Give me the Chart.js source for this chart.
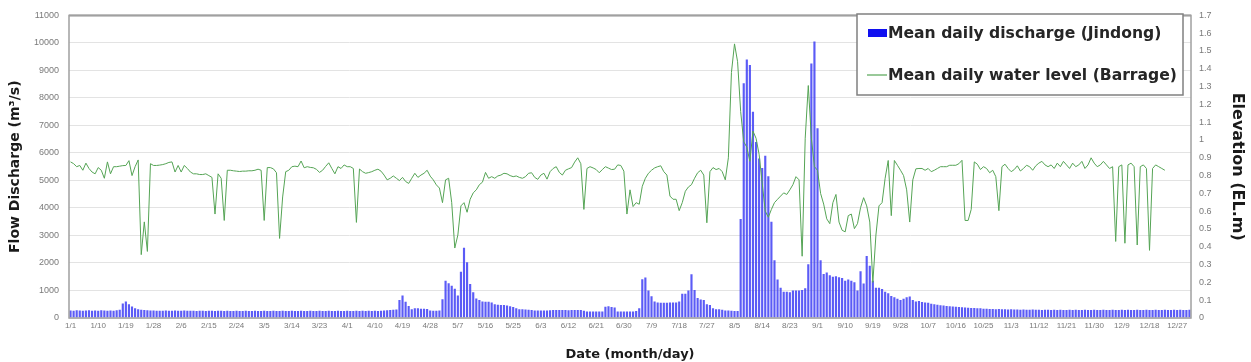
<!DOCTYPE html>
<html>
<head>
<meta charset="utf-8">
<script src="https://cdn.jsdelivr.net/npm/chart.js@4.4.1/dist/chart.umd.min.js"></script>
<style>
html, body { margin: 0; padding: 0; background: #fff; }
#wrap { width: 1251px; height: 362px; position: relative; }
</style>
</head>
<body>
<div id="wrap"><canvas id="chart"></canvas></div>
<script>
'use strict';

// categories: one per day of the year (month/day)
const monthLengths = [31, 28, 31, 30, 31, 30, 31, 31, 30, 31, 30, 31];
const days = [];
monthLengths.forEach((n, m) => {
	for (let d = 1; d <= n; ++d) {
		days.push(`${m + 1}/${d}`);
	}
});

// labels printed under the axis
const tickLabels = ['1/1', '1/10', '1/19', '1/28', '2/6', '2/15', '2/24', '3/5', '3/14', '3/23',
	'4/1', '4/10', '4/19', '4/28', '5/7', '5/16', '5/25', '6/3', '6/12', '6/21', '6/30',
	'7/9', '7/18', '7/27', '8/5', '8/14', '8/23', '9/1', '9/10', '9/19', '9/28',
	'10/7', '10/16', '10/25', '11/3', '11/12', '11/21', '11/30', '12/9', '12/18', '12/27'];

// mean daily discharge at Jindong (m3/s)
const discharge = [
	270, 260, 280, 270, 260, 270, 280, 260, 270, 260,
	280, 270, 260, 270, 260, 280, 300, 530, 600, 500,
	420, 350, 320, 300, 290, 280, 270, 270, 260, 260,
	260, 270, 260, 260, 270, 260, 260, 270, 260, 260,
	260, 250, 260, 260, 250, 260, 260, 250, 260, 260,
	250, 260, 250, 250, 260, 250, 250, 260, 250, 250,
	260, 250, 250, 260, 250, 250, 260, 250, 250, 260,
	250, 250, 260, 250, 250, 260, 250, 250, 260, 250,
	250, 260, 250, 250, 260, 250, 250, 260, 250, 250,
	260, 250, 250, 260, 250, 260, 250, 260, 250, 260,
	250, 260, 270, 280, 290, 300, 310, 650, 820, 590,
	435, 320, 350, 350, 340, 340, 330, 270, 260, 260,
	270, 680, 1350, 1260, 1175, 1060, 820, 1680, 2550, 2030,
	1235, 940, 705, 650, 600, 590, 590, 560, 500, 480,
	470, 470, 450, 430, 400, 350, 320, 320, 310, 300,
	290, 270, 270, 270, 270, 270, 280, 290, 290, 290,
	290, 290, 280, 290, 290, 290, 290, 260, 240, 235,
	235, 235, 235, 240, 410, 430, 400, 380, 240, 235,
	240, 240, 240, 240, 250, 350, 1410, 1470, 1000, 790,
	600, 560, 550, 550, 550, 560, 560, 560, 600, 880,
	880, 1000, 1590, 1020, 730, 670, 650, 500, 470, 350,
	320, 320, 300, 270, 270, 260, 250, 250, 3600, 8530,
	9400, 9200, 7500, 6400, 5800, 5450, 5900, 5150, 3500, 2100,
	1400, 1100, 950, 950, 940, 1000, 1000, 1000, 1020, 1080,
	1950, 9250, 10050, 6900, 2100, 1600, 1650, 1550, 1500, 1520,
	1480, 1450, 1350, 1400, 1350, 1300, 1000, 1700, 1250, 2250,
	1900, 1350, 1100, 1100, 1050, 950, 900, 800, 750, 700,
	650, 700, 750, 780, 650, 600, 620, 580, 560, 550,
	520, 500, 480, 460, 450, 440, 430, 420, 410, 400,
	390, 380, 370, 360, 360, 350, 350, 340, 340, 330,
	330, 320, 330, 320, 320, 310, 320, 310, 310, 300,
	310, 300, 300, 310, 300, 300, 290, 300, 300, 290,
	300, 290, 300, 290, 290, 300, 290, 300, 290, 290,
	300, 290, 290, 300, 290, 290, 300, 290, 290, 300,
	290, 290, 300, 290, 300, 290, 290, 300, 290, 290,
	300, 290, 290, 300, 290, 290, 300, 290, 290, 300,
	290, 300, 290, 290, 300
];

// mean daily water level at the barrage (EL.m)
const waterLevel = [
	0.877, 0.867, 0.85, 0.857, 0.83, 0.87, 0.84, 0.82, 0.81, 0.845,
	0.83, 0.785, 0.877, 0.81, 0.85, 0.85, 0.853, 0.856, 0.857, 0.884,
	0.80, 0.85, 0.888, 0.356, 0.54, 0.374, 0.867, 0.857, 0.857, 0.859,
	0.862, 0.867, 0.874, 0.877, 0.82, 0.857, 0.82, 0.857, 0.84, 0.82,
	0.81, 0.81, 0.806, 0.806, 0.81, 0.80, 0.79, 0.584, 0.81, 0.785,
	0.548, 0.83, 0.83, 0.827, 0.825, 0.823, 0.825, 0.825, 0.827, 0.827,
	0.83, 0.836, 0.83, 0.548, 0.845, 0.845, 0.838, 0.816, 0.447, 0.68,
	0.822, 0.83, 0.85, 0.853, 0.85, 0.882, 0.844, 0.85, 0.846, 0.844,
	0.835, 0.818, 0.83, 0.852, 0.872, 0.84, 0.81, 0.85, 0.84, 0.86,
	0.85, 0.85, 0.84, 0.537, 0.837, 0.822, 0.813, 0.817, 0.822, 0.83,
	0.836, 0.825, 0.803, 0.776, 0.785, 0.798, 0.785, 0.772, 0.79, 0.767,
	0.756, 0.785, 0.813, 0.79, 0.803, 0.813, 0.83, 0.797, 0.776, 0.748,
	0.73, 0.648, 0.776, 0.785, 0.648, 0.393, 0.466, 0.63, 0.648, 0.594,
	0.667, 0.703, 0.72, 0.749, 0.763, 0.818, 0.785, 0.794, 0.785, 0.798,
	0.803, 0.813, 0.81, 0.8, 0.794, 0.798, 0.79, 0.785, 0.794, 0.813,
	0.816, 0.79, 0.779, 0.803, 0.813, 0.78, 0.822, 0.84, 0.85, 0.818,
	0.803, 0.83, 0.838, 0.845, 0.876, 0.9, 0.867, 0.61, 0.84, 0.85,
	0.843, 0.834, 0.816, 0.834, 0.85, 0.842, 0.834, 0.836, 0.86, 0.857,
	0.825, 0.584, 0.72, 0.626, 0.648, 0.639, 0.74, 0.785, 0.813, 0.83,
	0.843, 0.85, 0.855, 0.822, 0.803, 0.685, 0.667, 0.667, 0.603, 0.648,
	0.712, 0.736, 0.749, 0.785, 0.816, 0.83, 0.803, 0.535, 0.822, 0.845,
	0.834, 0.84, 0.822, 0.776, 0.9, 1.38, 1.54, 1.44, 1.16, 0.99,
	0.96, 0.88, 1.05, 1.01, 0.92, 0.758, 0.60, 0.566, 0.61, 0.648,
	0.667, 0.685, 0.703, 0.694, 0.72, 0.749, 0.794, 0.776, 0.347, 1.01,
	1.306, 1.01, 0.85, 0.83, 0.70, 0.64, 0.557, 0.53, 0.648, 0.694,
	0.539, 0.493, 0.484, 0.575, 0.584, 0.502, 0.53, 0.62, 0.676, 0.63,
	0.539, 0.2, 0.466, 0.63, 0.648, 0.785, 0.885, 0.575, 0.885, 0.858,
	0.83, 0.80, 0.72, 0.539, 0.776, 0.838, 0.84, 0.84, 0.83, 0.84,
	0.822, 0.83, 0.84, 0.85, 0.85, 0.85, 0.858, 0.858, 0.858, 0.867,
	0.886, 0.548, 0.548, 0.61, 0.877, 0.864, 0.834, 0.85, 0.84, 0.816,
	0.83, 0.794, 0.603, 0.85, 0.864, 0.84, 0.822, 0.834, 0.855, 0.826,
	0.84, 0.858, 0.85, 0.83, 0.855, 0.87, 0.88, 0.86, 0.85, 0.86,
	0.84, 0.87, 0.85, 0.88, 0.86, 0.84, 0.87, 0.85, 0.86, 0.88,
	0.84, 0.86, 0.9, 0.87, 0.85, 0.86, 0.88, 0.86, 0.84, 0.85,
	0.43, 0.85, 0.86, 0.42, 0.86, 0.87, 0.85, 0.41, 0.85, 0.86,
	0.84, 0.38, 0.84, 0.86, 0.85, 0.84, 0.83, null, null, null,
	null, null, null, null, null
];

const GRID_GREY = '#e3e3e3', FRAME_GREY = '#a0a0a0', TICK_GREY = '#7a7a7a';
const TITLE_FONT = 'DejaVu Sans';

/** Draws the grey frame round the plot area. */
const framePlugin = {
	id: 'frame',
	afterDatasetsDraw: (chart) => {
		const {ctx, chartArea: a} = chart;
		ctx.save();
		ctx.strokeStyle = FRAME_GREY;
		ctx.lineWidth = 1.5;
		ctx.strokeRect(a.left, a.top, a.right - a.left, a.bottom - a.top);
		ctx.lineWidth = 2;
		ctx.beginPath();
		ctx.moveTo(a.left, a.top);
		ctx.lineTo(a.right, a.top);
		ctx.stroke();
		ctx.restore();
	}
};

/** Boxed legend in the upper right corner of the plot. */
const boxLegendPlugin = {
	id: 'boxLegend',
	afterDraw: (chart) => {
		const {ctx} = chart;
		const box = {x: 857, y: 14, w: 326, h: 81};
		const rows = [33, 75];
		ctx.save();
		ctx.fillStyle = '#fff';
		ctx.fillRect(box.x, box.y, box.w, box.h);
		ctx.strokeStyle = '#808080';
		ctx.lineWidth = 1.5;
		ctx.strokeRect(box.x, box.y, box.w, box.h);
		ctx.font = `bold 15.6px "${TITLE_FONT}"`;
		ctx.textBaseline = 'middle';
		// bar series first, line series second, as in the picture
		const items = [chart.data.datasets[1], chart.data.datasets[0]];
		items.forEach((ds, idx) => {
			const y = rows[idx];
			if (ds.type === 'bar') {
				ctx.fillStyle = '#1010f0';
				ctx.fillRect(868, y - 4, 19, 8);
			}
			else {
				ctx.strokeStyle = ds.borderColor;
				ctx.lineWidth = 1.2;
				ctx.beginPath();
				ctx.moveTo(867, y);
				ctx.lineTo(887, y);
				ctx.stroke();
			}
			ctx.fillStyle = '#262626';
			ctx.fillText(ds.label, 888, y + 1);
		});
		ctx.restore();
	}
};

new Chart(document.getElementById('chart'), {
	data: {
		labels: days,
		datasets: [
			{
				type: 'line',
				label: 'Mean daily water level (Barrage)',
				data: waterLevel,
				yAxisID: 'y1',
				borderColor: '#55a455',
				borderWidth: 1,
				pointRadius: 0,
				tension: 0,
				spanGaps: false,
				order: 0
			},
			{
				type: 'bar',
				label: 'Mean daily discharge (Jindong)',
				data: discharge,
				yAxisID: 'y',
				backgroundColor: 'rgba(62, 62, 245, 0.85)',
				borderWidth: 0,
				barPercentage: 0.7,
				categoryPercentage: 1.0,
				order: 1
			}
		]
	},
	options: {
		responsive: true,
		maintainAspectRatio: false,
		animation: false,
		layout: {
			padding: {top: 8, left: 0, right: 0, bottom: 0}
		},
		plugins: {
			legend: {display: false},
			tooltip: {enabled: false}
		},
		scales: {
			x: {
				type: 'category',
				offset: true,
				grid: {display: false, drawTicks: false},
				border: {display: false},
				ticks: {
					autoSkip: false,
					maxRotation: 0,
					minRotation: 0,
					padding: 3,
					color: TICK_GREY,
					font: {family: 'Liberation Sans', size: 8},
					callback: function(value) {
						const lab = this.getLabelForValue(value);
						return tickLabels.includes(lab) ? lab : '';
					}
				},
				title: {
					display: true,
					text: 'Date (month/day)',
					color: '#1a1a1a',
					font: {family: TITLE_FONT, size: 13, weight: 'bold'},
					padding: {top: 0, bottom: 0}
				},
				afterFit: (scale) => { scale.height = 44; }
			},
			y: {
				position: 'left',
				min: 0,
				max: 11000,
				grid: {color: GRID_GREY, drawTicks: false},
				border: {display: false},
				ticks: {
					stepSize: 1000,
					padding: 10,
					color: TICK_GREY,
					font: {family: 'Liberation Sans', size: 9},
					callback: (v) => String(v)
				},
				title: {
					display: true,
					text: 'Flow Discharge (m³/s)',
					color: '#1a1a1a',
					font: {family: TITLE_FONT, size: 14, weight: 'bold'},
					padding: {top: 7, bottom: 0}
				},
				afterFit: (scale) => { scale.width = 69; }
			},
			y1: {
				position: 'right',
				min: 0,
				max: 1.7,
				grid: {drawOnChartArea: false, drawTicks: false},
				border: {display: false},
				ticks: {
					stepSize: 0.1,
					padding: 8,
					color: TICK_GREY,
					font: {family: 'Liberation Sans', size: 9},
					callback: (v) => String(Math.round(v * 10) / 10)
				},
				title: {
					display: true,
					text: 'Elevation (EL.m)',
					color: '#1a1a1a',
					font: {family: TITLE_FONT, size: 16, weight: 'bold'},
					padding: {top: 4, bottom: 0}
				},
				afterFit: (scale) => { scale.width = 60; }
			}
		}
	},
	plugins: [framePlugin, boxLegendPlugin]
});
</script>
</body>
</html>
